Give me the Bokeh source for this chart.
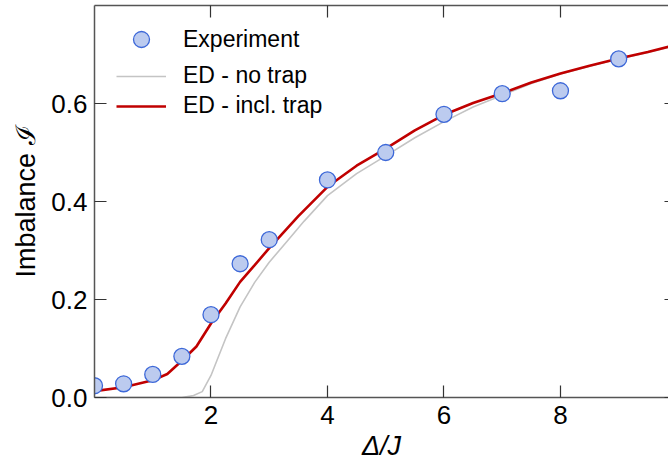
from bokeh.plotting import figure
from bokeh.models import (ColumnDataSource, Legend, LegendItem, LinearAxis,
                          FixedTicker, PrintfTickFormatter, Range1d, CustomLabelingPolicy)
from bokeh.embed import file_html
from bokeh.resources import INLINE

# ---- data ----
exp_x = [0, 0.5, 1, 1.5, 2, 2.5, 3, 4, 5, 6, 7, 8, 9]
exp_y = [0.024, 0.028, 0.047, 0.084, 0.169, 0.273, 0.322, 0.444, 0.500, 0.578, 0.620, 0.626, 0.691]

trap_x = [0, 0.5, 1.0, 1.25, 1.5, 1.75, 2.0, 2.25, 2.5, 2.75, 3.0, 3.5, 4.0, 4.5,
          5.0, 5.5, 6.0, 6.5, 7.0, 7.5, 8.0, 8.5, 9.0, 9.5, 9.86]
trap_y = [0.013, 0.021, 0.035, 0.048, 0.075, 0.104, 0.151, 0.192, 0.236, 0.270, 0.305, 0.370, 0.430, 0.473,
          0.508, 0.545, 0.577, 0.601, 0.621, 0.643, 0.661, 0.677, 0.692, 0.705, 0.716]

notrap_x = [0, 1.5, 1.7, 1.85, 2.0, 2.1, 2.25, 2.5, 2.75, 3.0, 3.3, 3.6, 4.0, 4.5,
            5.0, 5.5, 6.0, 6.5, 7.0, 7.5, 8.0, 8.5, 9.0, 9.5, 9.86]
notrap_y = [0.0, 0.0, 0.004, 0.012, 0.045, 0.075, 0.120, 0.185, 0.235, 0.276, 0.318, 0.360, 0.412, 0.457,
            0.493, 0.530, 0.563, 0.593, 0.617, 0.641, 0.660, 0.676, 0.691, 0.704, 0.715]

x_ticks = [2, 4, 6, 8]
y_ticks = [0.0, 0.2, 0.4, 0.6]

FONT = "Liberation Sans"
AX = "#555555"
TICK = "#333333"

p = figure(frame_width=574, frame_height=392, output_backend="svg", toolbar_location=None,
           x_range=Range1d(0, 9.855), y_range=Range1d(0, 0.8),
           min_border_left=94, min_border_top=5, min_border_right=0, min_border_bottom=60,
           x_axis_label="Δ/J", y_axis_label="Imbalance ℐ")
p.outline_line_color = None
p.grid.visible = False
p.background_fill_color = "white"
p.border_fill_color = "white"

# main axes
for ax in (p.xaxis[0], p.yaxis[0]):
    ax.axis_line_color = AX
    ax.axis_line_width = 1.5
    ax.major_tick_line_color = TICK
    ax.major_tick_line_width = 1.2
    ax.major_tick_in = 12
    ax.major_tick_out = 0
    ax.minor_tick_line_color = None
    ax.major_label_text_font = FONT
    ax.major_label_text_font_size = "26px"
    ax.major_label_text_color = "black"
    ax.axis_label_text_font = FONT
    ax.axis_label_text_font_style = "normal"
    ax.axis_label_text_color = "black"
p.xaxis[0].ticker = FixedTicker(ticks=x_ticks)
p.yaxis[0].ticker = FixedTicker(ticks=y_ticks)
p.yaxis[0].formatter = PrintfTickFormatter(format="%.1f")
p.xaxis[0].major_label_standoff = 8
p.yaxis[0].major_label_standoff = 7
p.xaxis[0].axis_label_text_font_size = "27px"
p.xaxis[0].axis_label_text_font_style = "italic"
p.xaxis[0].axis_label_standoff = 4
p.yaxis[0].axis_label_text_font_size = "27px"
p.yaxis[0].axis_label_standoff = 7

# mirrored axes (top, right): ticks only, no labels
no_labels = CustomLabelingPolicy(code="return new Set()")
top = LinearAxis(ticker=FixedTicker(ticks=x_ticks), major_label_policy=no_labels)
right = LinearAxis(ticker=FixedTicker(ticks=y_ticks), major_label_policy=CustomLabelingPolicy(code="return new Set()"))
for ax, tin in ((top, 12), (right, 4)):
    ax.major_tick_in = tin
    ax.major_tick_out = 0
    ax.minor_tick_line_color = None
    ax.major_tick_line_color = TICK
    ax.major_tick_line_width = 1.2
    ax.major_label_text_font_size = "1px"
    ax.major_label_standoff = 0
    ax.axis_label = None
top.axis_line_color = AX
top.axis_line_width = 1.5
right.axis_line_color = None
p.add_layout(top, "above")
p.add_layout(right, "right")

# curves
src_nt = ColumnDataSource(dict(x=notrap_x, y=notrap_y))
src_t = ColumnDataSource(dict(x=trap_x, y=trap_y))
src_e = ColumnDataSource(dict(x=exp_x, y=exp_y))
r_nt = p.line("x", "y", source=src_nt, line_color="#c4c4c4", line_width=1.6)
r_t = p.line("x", "y", source=src_t, line_color="#c00000", line_width=2.6)
r_e = p.scatter("x", "y", source=src_e, size=16, marker="circle",
                fill_color="#bccbef", line_color="#3d68d8", line_width=1.3)

legA = Legend(items=[LegendItem(label="Experiment", renderers=[r_e])],
              location=(22, 338), glyph_width=50, glyph_height=40, label_standoff=17,
              padding=0, margin=0, border_line_color=None, background_fill_alpha=0,
              label_text_font=FONT, label_text_font_size="23px", label_text_color="black",
              spacing=0)
legB = Legend(items=[LegendItem(label="ED - no trap", renderers=[r_nt]),
                     LegendItem(label="ED - incl. trap", renderers=[r_t])],
              location=(22, 278), glyph_width=50, glyph_height=26, label_height=26,
              label_standoff=17, padding=0, margin=0, border_line_color=None,
              background_fill_alpha=0, label_text_font=FONT, label_text_font_size="23px",
              label_text_color="black", spacing=3)
p.add_layout(legA)
p.add_layout(legB)

open("out.html", "w").write(file_html(p, INLINE))
